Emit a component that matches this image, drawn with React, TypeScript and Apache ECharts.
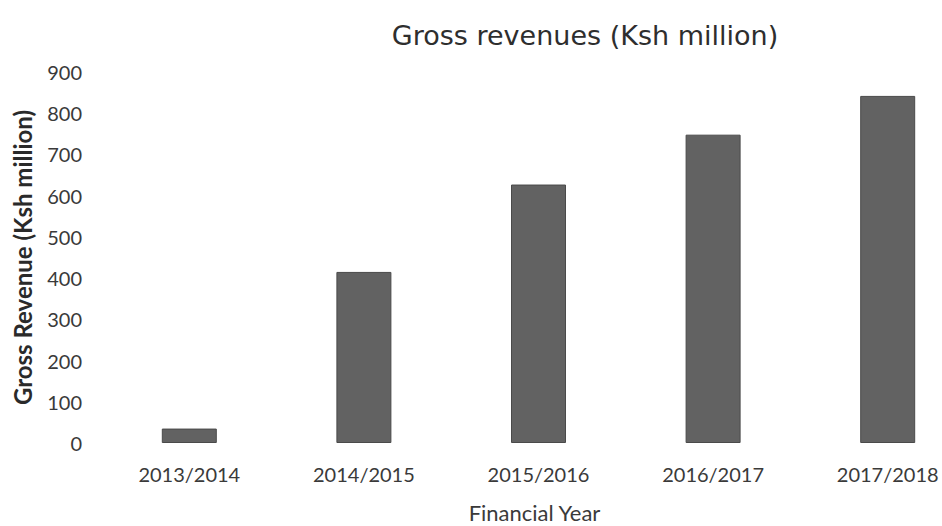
import React, { useEffect, useRef } from "react";
import * as echarts from "echarts";

const categories = ["2013/2014", "2014/2015", "2015/2016", "2016/2017", "2017/2018"];
const revenues = [35, 415, 627, 748, 842];
const yTicks = { min: 0, max: 900, interval: 100 };

export default function App() {
  const ref = useRef<HTMLDivElement>(null);
  useEffect(() => {
    if (!ref.current) return;
    const chart = echarts.init(ref.current, null, { renderer: "svg" });
    const font = "Lato, 'Open Sans', sans-serif";
    chart.setOption({
      animation: false,
      backgroundColor: "#ffffff",
      title: {
        text: "Gross revenues (Ksh million)",
        left: 580,
        textAlign: "center",
        top: 17,
        textStyle: { fontFamily: "'DejaVu Sans', sans-serif", fontSize: 27, fontWeight: "normal", color: "#2e2e2e" },
      },
      grid: { left: 102, right: 0, top: 72, height: 371, outerBoundsMode: "none", containLabel: false },
      xAxis: {
        type: "category",
        data: categories,
        axisLine: { show: false },
        axisTick: { show: false },
        axisLabel: { fontFamily: font, fontSize: 20, color: "#3a3a3a", margin: 21 },
        name: "Financial Year",
        nameLocation: "middle",
        nameGap: 58,
        nameTextStyle: { fontFamily: font, fontSize: 22, color: "#3a3a3a", padding: [0, 8, 0, 0] },
      },
      yAxis: {
        type: "value",
        min: yTicks.min,
        max: yTicks.max,
        interval: yTicks.interval,
        axisLine: { show: false },
        axisTick: { show: false },
        splitLine: { show: false },
        axisLabel: { fontFamily: font, fontSize: 20, color: "#3a3a3a", margin: 20 },
        name: "Gross Revenue (Ksh million)",
        nameLocation: "middle",
        nameGap: 68,
        nameRotate: 90,
        nameTextStyle: { fontFamily: font, fontSize: 24, fontWeight: "bold", color: "#2a2a2a" },
      },
      series: [
        {
          type: "bar",
          data: revenues,
          barWidth: 55,
          itemStyle: {
            color: "#626262",
            borderColor: "#4a4a4a",
            borderWidth: 1,
          },
        },
      ],
    });
    return () => chart.dispose();
  }, []);
  return (
    <div style={{ position: "fixed", left: 0, top: 0, width: 942, height: 526, overflow: "hidden", background: "#fff" }}>
      <div ref={ref} style={{ width: 975, height: 526 }} />
    </div>
  );
}
